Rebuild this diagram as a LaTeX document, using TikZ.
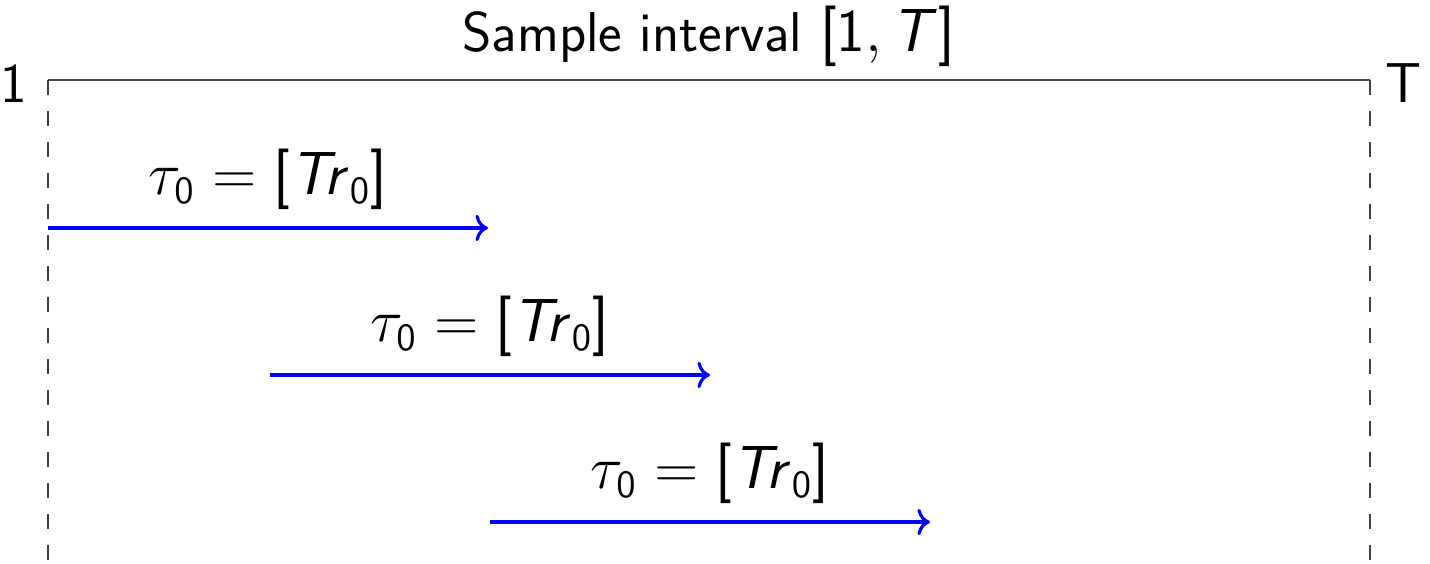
\documentclass[tikz,border=0pt]{standalone}
\usetikzlibrary{arrows.meta, positioning, calc}
\SetSymbolFont{operators}{normal}{OT1}{cmss}{m}{n}
\DeclareMathAlphabet{\mathsfit}{OT1}{cmss}{m}{sl}

\begin{document}
\sffamily
\begin{tikzpicture}[
                every node/.style={text=black, font=\fontsize{16}{19}\selectfont},
                span/.style={->, blue, line width=0.9pt},
                guide/.style={black!75, line width=0.6pt, dash pattern=on 0.15cm off 0.16cm},
                >=To
            ]
            \useasboundingbox (0,0) rectangle (14.3,5.63);
            \coordinate (left) at (0.48,4.83);
            \coordinate (right) at (13.70,4.83);
            \coordinate (leftfoot) at (0.48,0);
            \coordinate (rightfoot) at (13.70,0);
            \draw[black!70, line width=0.7pt] (left) -- node[above=0pt] (title) {Sample interval $[1,\mathsfit{T}]$} (right);
            \node (one) [left=2.5pt of left, yshift=-1pt] {1};
            \node (last) [right=1pt of right, yshift=-1pt] {T};
            \draw[guide] (left) -- (leftfoot);
            \draw[guide] (right) -- (rightfoot);
            \foreach \i/\x/\y in {1/0.48/3.35, 2/2.70/1.88, 3/4.90/0.41} {
                \coordinate (from\i) at (\x,\y);
                \coordinate (to\i) at ($(from\i)+(4.4,0)$);
                \draw[span] (from\i) -- node[above=1.5pt] (lab\i) {$\tau_0 = [\mathsfit{Tr}_0]$} (to\i);
            }
        \end{tikzpicture}
\end{document}
